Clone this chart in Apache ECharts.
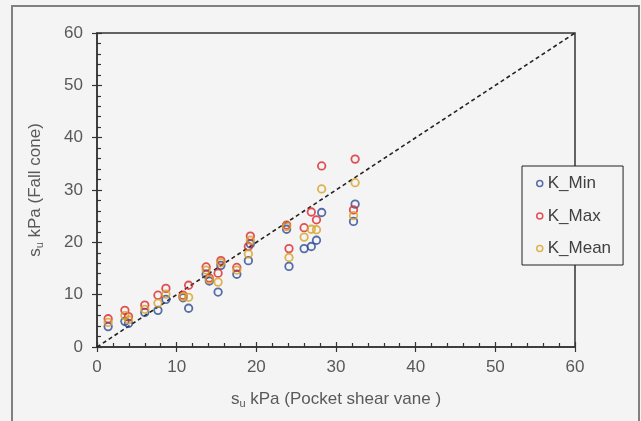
<!DOCTYPE html>
<html>
<head>
<meta charset="utf-8">
<script src="https://cdn.jsdelivr.net/npm/echarts@6/dist/echarts.min.js"></script>
<style>
  html, body { margin: 0; padding: 0; background: #f3f4f3; }
  #main { width: 641px; height: 421px; }
</style>
</head>
<body>
<div id="main"></div>
<script>
// pocket shear vane values (x) and fall cone results (y)
var vane   = [1.4, 3.5, 3.95, 6.0, 7.65, 8.65, 10.8, 11.5, 13.7, 14.1, 15.2, 15.55, 17.55, 19.0, 19.25, 23.8, 24.1, 26.0, 26.9, 27.55, 28.2, 32.2, 32.4];
var kMin   = [3.9, 4.9, 4.5, 6.6, 7.0, 9.1, 9.4, 7.4, 13.9, 12.6, 10.5, 15.6, 13.9, 16.5, 19.7, 22.5, 15.4, 18.8, 19.2, 20.4, 25.7, 24.0, 27.3];
var kMax   = [5.4, 7.0, 5.8, 8.0, 9.9, 11.2, 9.9, 11.8, 15.3, 13.2, 14.1, 16.5, 15.2, 19.2, 21.2, 23.3, 18.8, 22.8, 25.8, 24.3, 34.6, 26.2, 35.9];
var kMean  = [4.7, 6.0, 5.2, 7.2, 8.4, 10.1, 9.6, 9.5, 14.7, 12.9, 12.4, 16.1, 14.7, 17.8, 20.4, 23.0, 17.1, 21.0, 22.5, 22.4, 30.2, 25.1, 31.4];
var lineOfEquality = [[0, 0], [60, 60]];
var seriesNames = ['K_Min', 'K_Max', 'K_Mean'];
var seriesColors = ['#2d4a96', '#dc262d', '#d8a127'];

function pairs(xs, ys) {
  var out = [];
  for (var i = 0; i < xs.length; i++) out.push([xs[i], ys[i]]);
  return out;
}

var myChart = echarts.init(document.getElementById('main'));

var axisFont = 'Liberation Sans, Arial, sans-serif';
var labelColor = '#595959';

function mainAxis(nameText, extra) {
  var ax = {
    type: 'value',
    min: 0, max: 60, interval: 10,
    name: '{s|s}{u|u}{t| ' + nameText + '}',
    nameLocation: 'middle',
    nameTextStyle: {
      rich: {
        s: { fontSize: 17, color: labelColor, fontFamily: axisFont },
        u: { fontSize: 11, color: labelColor, fontFamily: axisFont, padding: [8, 0, 0, 0] },
        t: { fontSize: 17, color: labelColor, fontFamily: axisFont }
      }
    },
    axisLine: { show: true, lineStyle: { color: '#333', width: 1.5 } },
    axisTick: { show: true, inside: true, length: 5, lineStyle: { color: '#333', width: 1.2 } },
    minorTick: { show: true, splitNumber: 5, length: 4, lineStyle: { color: '#333', width: 1.2 } },
    axisLabel: { color: labelColor, fontSize: 17, fontFamily: axisFont },
    splitLine: { show: false }
  };
  for (var k in extra) ax[k] = extra[k];
  return ax;
}

function outerTicks(extra) {
  var ax = {
    type: 'value',
    min: 0, max: 60, interval: 10,
    axisLine: { show: false },
    axisTick: { show: true, inside: false, length: 5, lineStyle: { color: '#333', width: 1.2 } },
    axisLabel: { show: false },
    splitLine: { show: false }
  };
  for (var k in extra) ax[k] = extra[k];
  return ax;
}

var scatterSeries = [kMin, kMax, kMean].map(function (ys, i) {
  return {
    name: seriesNames[i],
    type: 'scatter',
    data: pairs(vane, ys),
    symbol: 'circle',
    symbolSize: 7.5,
    itemStyle: { color: 'rgba(0,0,0,0)', borderColor: seriesColors[i], borderWidth: 1.8 },
    z: 3 + i
  };
});

var option = {
  backgroundColor: '#f3f4f3',
  animation: false,
  graphic: [{
    type: 'rect',
    shape: { x: 12, y: 6, width: 627, height: 440 },
    style: { fill: 'none', stroke: '#808080', lineWidth: 2 },
    silent: true
  }],
  grid: {
    left: 97, top: 33, right: 66, bottom: 74,
    show: true, borderColor: '#333', borderWidth: 1.5, backgroundColor: 'transparent'
  },
  legend: {
    orient: 'vertical',
    left: 522, top: 166,
    padding: [9, 12, 8, 14],
    itemGap: 15.5,
    itemWidth: 6, itemHeight: 6,
    backgroundColor: '#f3f4f3',
    borderColor: '#222', borderWidth: 1,
    textStyle: { fontSize: 17, color: '#404040', fontFamily: axisFont, lineHeight: 16 },
    data: seriesNames.map(function (n, i) {
      return { name: n, icon: 'circle',
        itemStyle: { color: 'rgba(0,0,0,0)', borderColor: seriesColors[i], borderWidth: 1.5 } };
    })
  },
  xAxis: [
    mainAxis('kPa (Pocket shear vane )', { nameGap: 43, axisLabel: { color: labelColor, fontSize: 17, fontFamily: axisFont, margin: 12 } }),
    outerTicks({ position: 'bottom' })
  ],
  yAxis: [
    mainAxis('kPa (Fall cone)', { nameGap: 52, axisLabel: { color: labelColor, fontSize: 17, fontFamily: axisFont, margin: 14 } }),
    outerTicks({ position: 'left' })
  ],
  series: scatterSeries.concat([{
    name: 'equality',
    type: 'line',
    data: lineOfEquality,
    symbol: 'none',
    lineStyle: { color: '#222', width: 1.6, type: [4, 3] },
    z: 2
  }])
};

myChart.setOption(option);
</script>
</body>
</html>
